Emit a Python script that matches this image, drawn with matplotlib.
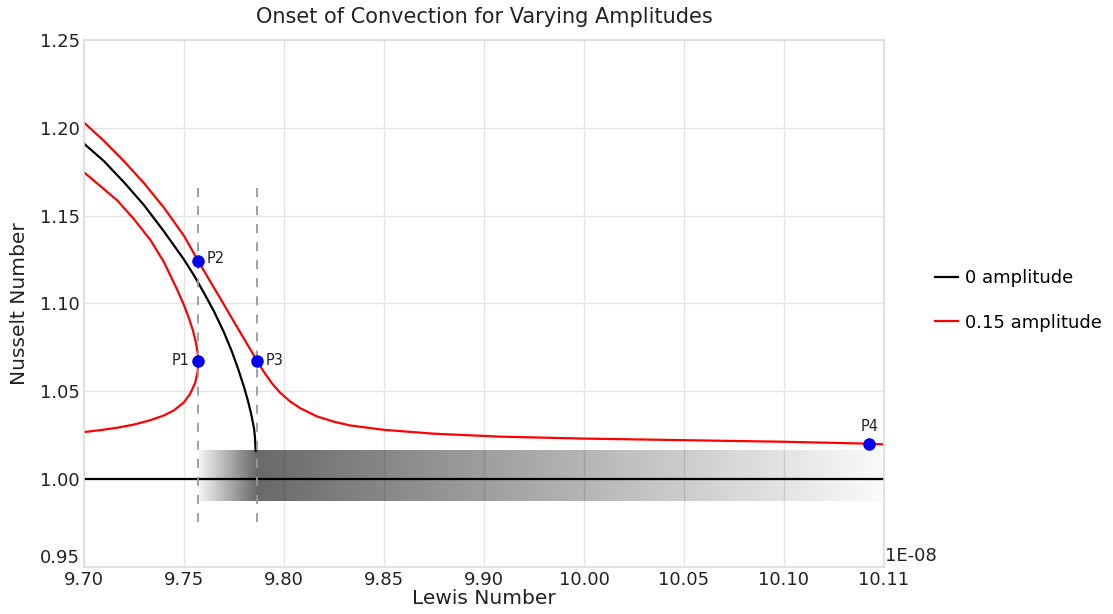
import numpy as np
import matplotlib
matplotlib.use('Agg')
import matplotlib.pyplot as plt

# Datos (Lewis en unidades de 1E-08)
le_cero = [9.700, 9.710, 9.720, 9.730, 9.740, 9.745, 9.750, 9.755, 9.760, 9.765, 9.770,
           9.774, 9.777, 9.780, 9.782, 9.7835, 9.785, 9.7855, 9.7858]
nu_cero = [1.191, 1.181, 1.169, 1.156, 1.141, 1.133, 1.125, 1.116, 1.106, 1.0955, 1.0835,
           1.0725, 1.063, 1.0525, 1.0445, 1.0375, 1.029, 1.0235, 1.016]

# rama superior de 0.15 amplitud
le_sup = [9.700, 9.710, 9.720, 9.730, 9.740, 9.750, 9.7572, 9.762, 9.767, 9.772, 9.777,
          9.782, 9.7865, 9.790, 9.794, 9.798, 9.803, 9.808, 9.8163, 9.825, 9.833, 9.8497,
          9.8747, 9.908, 9.950, 10.000, 10.050, 10.0927, 10.100]
nu_sup = [1.203, 1.1925, 1.181, 1.1685, 1.1545, 1.1385, 1.124, 1.1147, 1.1051, 1.0954, 1.0857,
          1.0761, 1.0674, 1.061, 1.0545, 1.0493, 1.0443, 1.0405, 1.0358, 1.0327, 1.0306, 1.0281,
          1.0259, 1.0242, 1.0231, 1.0222, 1.0213, 1.0202, 1.0198]

# rama en forma de C de 0.15 amplitud
le_c = [9.700, 9.708, 9.7167, 9.725, 9.7333, 9.740, 9.7467, 9.750, 9.7525, 9.7545, 9.756,
        9.7568, 9.7572, 9.7568, 9.7555, 9.753, 9.750, 9.745, 9.740, 9.7333, 9.725,
        9.7167, 9.708, 9.700]
nu_c = [1.1747, 1.1670, 1.1586, 1.1480, 1.1360, 1.1235, 1.1076, 1.0990, 1.0915, 1.0845, 1.0775,
        1.0720, 1.0674, 1.061, 1.0545, 1.0485, 1.0438, 1.0392, 1.0363, 1.0336, 1.0311,
        1.0293, 1.0279, 1.0268]

# linea base Nu = 1
le_base = [9.70, 10.10]
nu_base = [1.00, 1.00]

# puntos marcados
puntos = ['P1', 'P2', 'P3', 'P4']
le_puntos = [9.7572, 9.7572, 9.7865, 10.0927]
nu_puntos = [1.0674, 1.124, 1.0674, 1.0202]

# lineas verticales discontinuas (de arriba hacia abajo)
le_guias = [9.7572, 9.7865]
nu_guias = [1.166, 0.9705]

# banda degradada (gris aparente)
banda_x = [9.7572, 9.7865, 10.10]
banda_gris = [0.96, 0.41, 0.98]
banda_y = [0.9875, 1.0164]

xtick_vals = [9.70, 9.75, 9.80, 9.85, 9.90, 9.95, 10.00, 10.05, 10.10]
xtick_txt = ['9.70', '9.75', '9.80', '9.85', '9.90', '10.00', '10.05', '10.10', '10.11']
ytick_vals = [0.95, 1.00, 1.05, 1.10, 1.15, 1.20, 1.25]

fig = plt.figure(figsize=(11.13, 6.14), dpi=100)
ax = fig.add_axes([84 / 1113, 1 - 567 / 614, 800 / 1113, 527 / 614])

ax.set_xlim(9.70, 10.10)
ax.set_ylim(0.95, 1.25)
ax.set_xticks(xtick_vals)
ax.set_xticklabels(xtick_txt)
ax.set_yticks(ytick_vals)
ax.set_yticklabels([f'{v:.2f}' for v in ytick_vals])
ax.tick_params(length=0, labelsize=13, pad=3, colors='#222222')
ax.get_yticklabels()[0].set_va('bottom')
ax.grid(True, color='#e4e4e4', linewidth=1)
ax.set_axisbelow(True)
for s in ax.spines.values():
    s.set_color('#dddddd')
    s.set_linewidth(1.2)

# lineas
ax.plot(le_base, nu_base, color='black', lw=1.6, zorder=2)
ax.plot(le_cero, nu_cero, color='black', lw=1.6, zorder=2, label='0 amplitude')
ax.plot(le_sup, nu_sup, color='red', lw=1.6, zorder=2, label='0.15 amplitude')
ax.plot(le_c, nu_c, color='red', lw=1.6, zorder=2)

# degradado: negro con transparencia variable
xs = np.linspace(banda_x[0], banda_x[-1], 600)
img = np.zeros((1, len(xs), 4))
img[0, :, 3] = 1 - np.interp(xs, banda_x, banda_gris)
ax.imshow(img, extent=[banda_x[0], banda_x[-1], banda_y[0], banda_y[1]],
          aspect='auto', interpolation='bilinear', zorder=2.5)

for x in le_guias:
    ax.plot([x, x], nu_guias, color='#999999', lw=1.3, dashes=(5, 5), zorder=3)

ax.plot(le_puntos, nu_puntos, 'o', color='#0000ee', markersize=8, zorder=5)
offsets = {'P1': (-6, 0, 'right', 'center'), 'P2': (6, 2, 'left', 'center'),
           'P3': (6, 0, 'left', 'center'), 'P4': (0, 7, 'center', 'bottom')}
for nom, x, y in zip(puntos, le_puntos, nu_puntos):
    dx, dy, ha, va = offsets[nom]
    ax.annotate(nom, (x, y), xytext=(dx, dy), textcoords='offset points',
                ha=ha, va=va, fontsize=10.5, color='#222222', zorder=6)

ax.text(1.001, 0.004, '1E-08', transform=ax.transAxes, ha='left', va='bottom',
        fontsize=13, color='#222222')

ax.set_title('Onset of Convection for Varying Amplitudes', fontsize=15, pad=12, color='#222222')
ax.set_xlabel('Lewis Number', fontsize=14.5, labelpad=0, color='#222222')
ax.set_ylabel('Nusselt Number', fontsize=14.5, labelpad=8, color='#222222')

ax.legend(loc='center left', bbox_to_anchor=(935 / 1113, 1 - 300.5 / 614),
          bbox_transform=fig.transFigure, frameon=False, fontsize=13,
          handlelength=1.3, handletextpad=0.35, labelspacing=1.45, borderpad=0,
          borderaxespad=0)

fig.savefig('out.png', dpi=100)
